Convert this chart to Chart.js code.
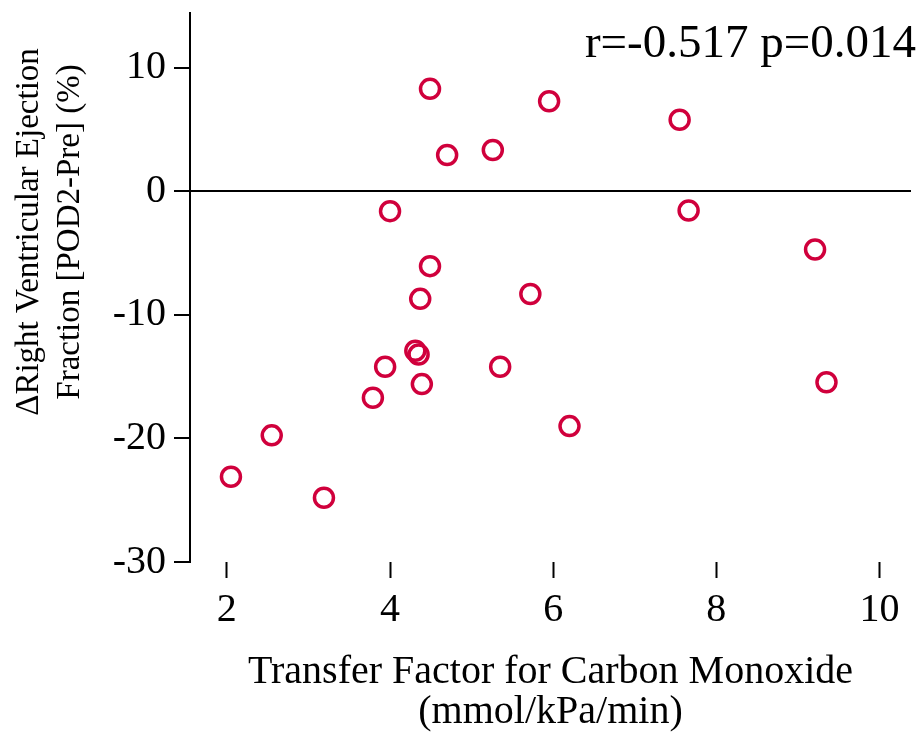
<!DOCTYPE html>
<html>
<head>
<meta charset="utf-8">
<script src="https://cdn.jsdelivr.net/npm/chart.js@4"></script>
<style>
  html, body { margin: 0; padding: 0; background: #fff; }
  #wrap { width: 924px; height: 740px; }
</style>
</head>
<body>
<div id="wrap"><canvas id="myChart"></canvas></div>
<script>
// transfer factor (x) and change in RVEF (y)
const tlco = [2.05, 2.55, 3.19, 3.79, 3.94, 4.00, 4.31, 4.35, 4.37, 4.39, 4.49,
              4.49, 4.70, 5.26, 5.35, 5.72, 5.95, 6.20, 7.55, 7.66, 9.21, 9.35];
const dRvef = [-23.1, -19.75, -24.8, -16.7, -14.2, -1.6, -12.9, -13.2, -8.7, -15.6, 8.3,
               -6.05, 2.95, 3.35, -14.2, -8.3, 7.3, -19.0, 5.8, -1.55, -4.7, -15.45];
const xTicks = [2, 4, 6, 8, 10];
const yTicks = [-30, -20, -10, 0, 10];
const statText = 'r=-0.517 p=0.014';
const yTitle = ['\u0394Right Ventricular Ejection', 'Fraction [POD2-Pre] (%)'];
const xTitle = ['Transfer Factor for Carbon Monoxide', '(mmol/kPa/min)'];

const serif = '"Liberation Serif", "Times New Roman", serif';
const red = '#d0003c';

const points = tlco.map((x, i) => ({ x: x, y: dRvef[i] }));

// y title + r/p text drawn by hand so they sit where the original has them
const extraText = {
    id: 'extraText',
    afterDraw(chart) {
        const ctx = chart.ctx;
        ctx.save();
        ctx.fillStyle = '#000';
        ctx.font = '47px ' + serif;
        ctx.textAlign = 'right';
        ctx.textBaseline = 'alphabetic';
        ctx.fillText(statText, 916, 57);

        ctx.font = '33px ' + serif;
        ctx.textAlign = 'center';
        ctx.textBaseline = 'middle';
        ctx.translate(0, 232);
        ctx.rotate(-Math.PI / 2);
        ctx.fillText(yTitle[0], 0, 29);
        ctx.fillText(yTitle[1], 0, 70);
        ctx.restore();
    }
};

const ctx = document.getElementById('myChart').getContext('2d');
const myChart = new Chart(ctx, {
    type: 'scatter',
    data: {
        datasets: [{
            data: points,
            pointStyle: 'circle',
            pointRadius: 9.5,
            pointHoverRadius: 9.5,
            borderWidth: 3.5,
            borderColor: red,
            backgroundColor: 'rgba(255,255,255,0)'
        }]
    },
    options: {
        responsive: true,
        maintainAspectRatio: false,
        animation: false,
        layout: { padding: { top: 11, right: 7, left: 0, bottom: 0 } },
        plugins: {
            legend: { display: false },
            tooltip: { enabled: false }
        },
        scales: {
            x: {
                type: 'linear',
                min: 1.548,
                max: 10.386,
                afterFit: s => {
                    s.height = 178;
                    s.paddingLeft = 0;
                    s.paddingRight = 0;
                },
                afterBuildTicks: s => { s.ticks = xTicks.map(v => ({ value: v })); },
                border: { display: false },
                grid: {
                    drawOnChartArea: false,
                    drawTicks: true,
                    tickLength: 16,
                    tickColor: '#000',
                    tickWidth: 2
                },
                ticks: {
                    color: '#000',
                    padding: 3,
                    maxRotation: 0,
                    font: { family: serif, size: 40, lineHeight: 1.45 }
                },
                title: {
                    display: true,
                    text: xTitle,
                    color: '#000',
                    padding: { top: 0, bottom: 8 },
                    font: { family: serif, size: 40, lineHeight: 1 }
                }
            },
            y: {
                type: 'linear',
                min: -30,
                max: 14.44,
                afterFit: s => {
                    s.width = 190;
                    s.paddingTop = 0;
                    s.paddingBottom = 0;
                },
                afterBuildTicks: s => { s.ticks = yTicks.map(v => ({ value: v })); },
                border: { display: true, color: '#000', width: 2 },
                grid: {
                    drawOnChartArea: true,
                    color: c => (c.tick && c.tick.value === 0) ? '#000' : 'rgba(0,0,0,0)',
                    lineWidth: 2,
                    drawTicks: true,
                    tickLength: 16,
                    tickColor: '#000',
                    tickWidth: 2
                },
                ticks: {
                    color: '#000',
                    padding: 8,
                    font: { family: serif, size: 40 }
                },
                title: { display: false }
            }
        }
    },
    plugins: [extraText]
});
</script>
</body>
</html>
